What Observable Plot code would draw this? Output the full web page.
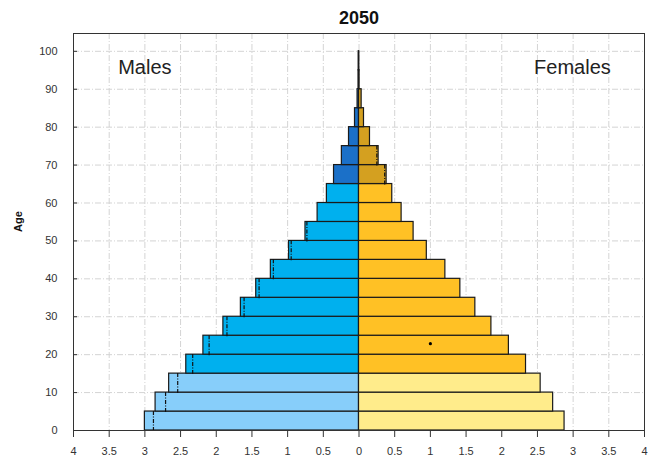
<!DOCTYPE html>
<html>
<head>
<meta charset="utf-8">
<script src="https://cdn.jsdelivr.net/npm/d3@7"></script>
<script src="https://cdn.jsdelivr.net/npm/@observablehq/plot@0.6"></script>
<style>
  html, body { margin: 0; padding: 0; background: #fff; }
</style>
</head>
<body>
<div id="chart"></div>
<script>
// Age group starts (5-year groups)
const ageStart = [0,5,10,15,20,25,30,35,40,45,50,55,60,65,70,75,80,85,90,95];
// Male population share (%), drawn to the left
const males = [3.00,2.85,2.66,2.42,2.18,1.90,1.655,1.44,1.235,0.98,0.75,0.58,0.45,0.35,0.24,0.14,0.056,0.02,0.006,0.004];
// Female population share (%), drawn to the right
const females = [2.88,2.72,2.545,2.34,2.10,1.855,1.63,1.42,1.21,0.95,0.765,0.597,0.466,0.387,0.275,0.154,0.07,0.037,0.008,0.004];
// Comparison (dash-dot) markers inside bars
const malesRef = [2.88,2.71,2.54,2.33,2.10,1.85,1.61,1.40,1.20,0.95,0.73,null,null,null,null,null,null,null,null,null];
const femalesRef = [null,null,null,null,null,null,null,null,null,null,null,null,null,0.36,0.25,null,null,null,null,null];
// Stray point
const extraPoint = [{x: 1.0, y: 22.9}];
const xTicks = [-4,-3.5,-3,-2.5,-2,-1.5,-1,-0.5,0,0.5,1,1.5,2,2.5,3,3.5,4];
const yTicks = [0,10,20,30,40,50,60,70,80,90,100];

const colors = {
  male: ["#87cefa", "#00b0ee", "#1b70c8"],
  female: ["#ffec8b", "#ffc125", "#d4a020"]
};
const grp = a => a < 15 ? 0 : (a < 65 ? 1 : 2);

const bars = [];
ageStart.forEach((a, i) => {
  bars.push({sex: "M", x1: -males[i], x2: 0, y1: a, y2: a + 5, fill: colors.male[grp(a)]});
  bars.push({sex: "F", x1: 0, x2: females[i], y1: a, y2: a + 5, fill: colors.female[grp(a)]});
});
const refs = [];
ageStart.forEach((a, i) => {
  if (malesRef[i] != null) refs.push({x: -malesRef[i], y1: a, y2: a + 5});
  if (femalesRef[i] != null) refs.push({x: femalesRef[i], y1: a, y2: a + 5});
});

const grid = {stroke: "#d4d4d4", strokeOpacity: 1, strokeWidth: 1, strokeDasharray: "6,2,1,2"};

const chart = Plot.plot({
  width: 648,
  height: 459,
  marginLeft: 73,
  marginRight: 4,
  marginTop: 33,
  marginBottom: 29,
  style: {fontFamily: "'Liberation Sans', Arial, sans-serif", fontSize: "11px", color: "#333", background: "#fff"},
  x: {domain: [-4, 4], label: null},
  y: {domain: [0, 104.7], label: null},
  marks: [
    Plot.gridX(xTicks, {...grid}),
    Plot.gridY(yTicks, {...grid}),
    Plot.rect(bars, {x1: "x1", x2: "x2", y1: "y1", y2: "y2", fill: "fill", stroke: "#1a1a1a", strokeWidth: 1.2}),
    Plot.ruleX(refs, {x: "x", y1: "y1", y2: "y2", stroke: "#111", strokeWidth: 1.2, strokeDasharray: "4,1.5,1,1.5", insetTop: 1, insetBottom: 1}),
    Plot.dot(extraPoint, {x: "x", y: "y", r: 1.6, fill: "#000", stroke: "none"}),
    Plot.frame({stroke: "#333", strokeWidth: 1}),
    Plot.axisX({ticks: xTicks, tickFormat: d => String(Math.abs(d)), tickSize: 7, tickPadding: 10, label: null, stroke: "#333"}),
    Plot.axisY({ticks: yTicks, tickSize: -4, tickPadding: 20, label: null, stroke: "#333"}),
    Plot.text(["Males"], {x: -3.0, y: 95.6, text: d => d, fontSize: 20, fill: "#222"}),
    Plot.text(["Females"], {x: 2.99, y: 95.6, text: d => d, fontSize: 20, fill: "#222"}),
    Plot.text(["2050"], {frameAnchor: "top", lineAnchor: "middle", dy: -15, text: d => d, fontSize: 18, fontWeight: "bold", fill: "#111"}),
    Plot.text(["Age"], {frameAnchor: "left", dx: -55, rotate: -90, text: d => d, fontSize: 11, fontWeight: "bold", fill: "#111"})
  ]
});
document.getElementById("chart").appendChild(chart);
</script>
</body>
</html>
